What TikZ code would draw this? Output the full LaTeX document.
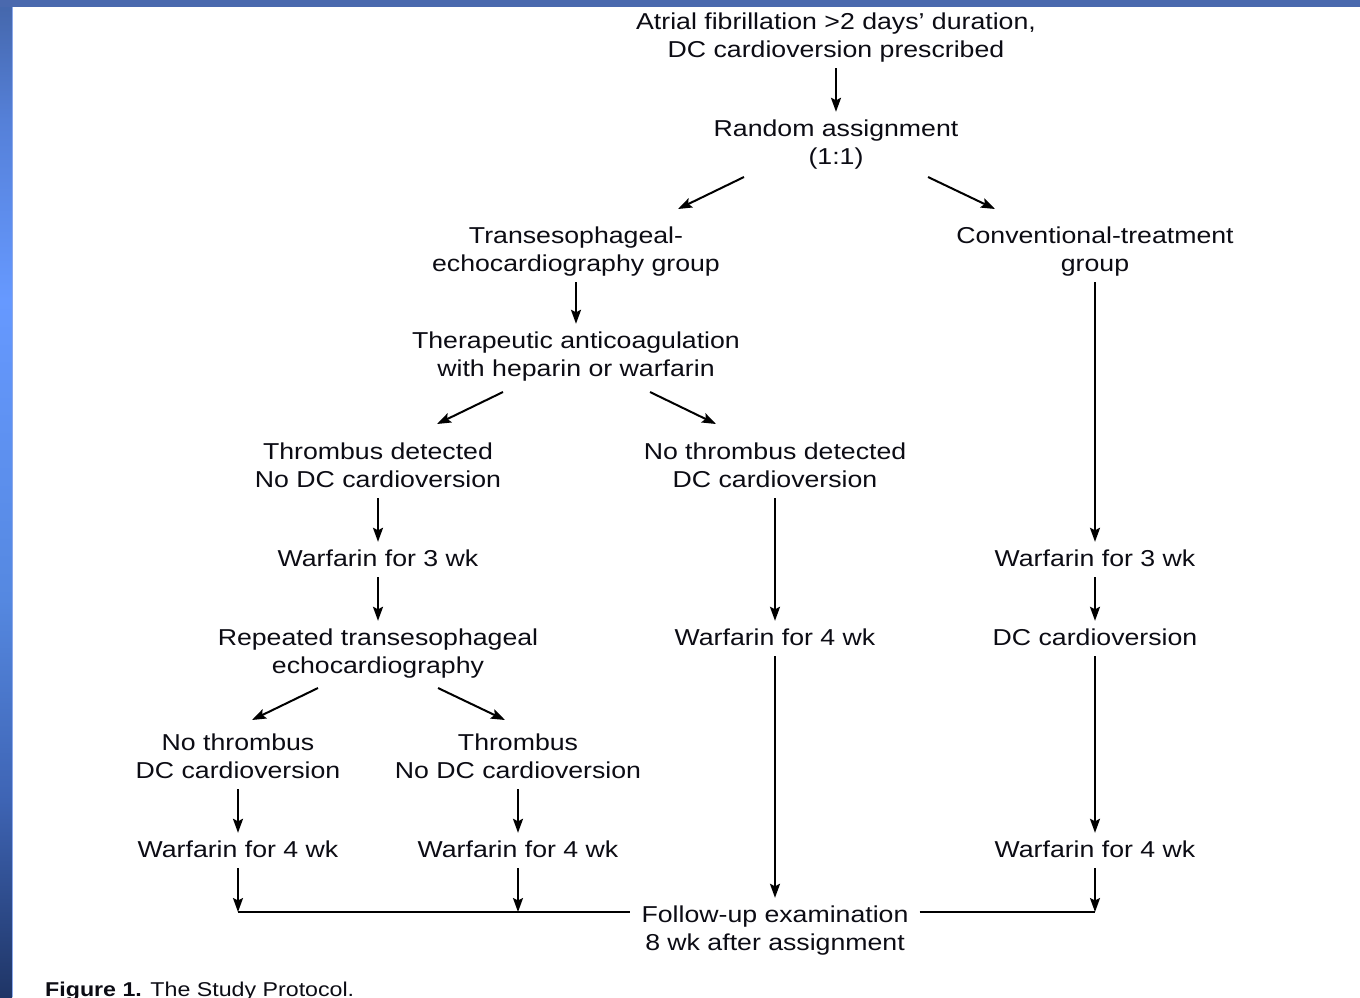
\documentclass[tikz,border=0pt]{standalone}
\usepackage{fontspec}
\setmainfont{Liberation Sans}[FakeStretch=1.16]
\usetikzlibrary{arrows.meta,calc}
\definecolor{txt}{RGB}{12,12,20}
\definecolor{topbar}{RGB}{74,105,174}
\definecolor{bA}{RGB}{68,102,170}
\definecolor{bB}{RGB}{85,128,216}
\definecolor{bC}{RGB}{102,153,255}
\definecolor{bD}{RGB}{85,136,224}
\definecolor{bE}{RGB}{62,100,180}
\definecolor{bF}{RGB}{31,53,102}
\definecolor{edge}{RGB}{140,170,235}
\begin{document}
\begin{tikzpicture}[x=1pt,y=-1pt,
  lbl/.style={inner sep=0pt,align=center,font=\fontsize{23}{28}\selectfont,text=txt},
  tip/.style={-{Stealth[length=14pt,width=10pt,inset=2.5pt]}},
  arr/.style={line width=2pt,draw=black,tip,shorten <=2pt,shorten >=5pt},
  arrj/.style={arr,shorten >=0pt},
  diag/.style={line width=2pt,draw=black,tip},
  ln/.style={line width=2pt,draw=black}]
\useasboundingbox (0,0) rectangle (1360,997);
\fill[white] (0,0) rectangle (1360,997);
% frame
\shade[top color=bA,bottom color=bB] (0,0) rectangle (12,120);
\shade[top color=bB,bottom color=bC] (0,120) rectangle (12,300);
\shade[top color=bC,bottom color=bD] (0,300) rectangle (12,600);
\shade[top color=bD,bottom color=bE] (0,600) rectangle (12,800);
\shade[top color=bE,bottom color=bF] (0,800) rectangle (12,997);
\fill[edge] (12,7) rectangle (13,997);
\fill[topbar] (0,0) rectangle (1360,7);

% nodes
\node[lbl] (A) at (836,38) {\strut Atrial fibrillation >2 days’ duration,\\\strut DC cardioversion prescribed};
\node[lbl] (B) at (836,145) {\strut Random assignment\\\strut (1:1)};
\node[lbl] (C) at (576,252) {\strut Transesophageal-\\\strut echocardiography group};
\node[lbl] (D) at (1095,252) {\strut Conventional-treatment\\\strut group};
\node[lbl] (E) at (576,357) {\strut Therapeutic anticoagulation\\\strut with heparin or warfarin};
\node[lbl] (F) at (378,468) {\strut Thrombus detected\\\strut No DC cardioversion};
\node[lbl] (G) at (775,468) {\strut No thrombus detected\\\strut DC cardioversion};
\node[lbl] (H) at (378,561) {\strut Warfarin for 3 wk};
\node[lbl] (I) at (378,654) {\strut Repeated transesophageal\\\strut echocardiography};
\node[lbl] (J) at (238,759) {\strut No thrombus\\\strut DC cardioversion};
\node[lbl] (K) at (518,759) {\strut Thrombus\\\strut No DC cardioversion};
\node[lbl] (L) at (238,852) {\strut Warfarin for 4 wk};
\node[lbl] (M) at (518,852) {\strut Warfarin for 4 wk};
\node[lbl] (O) at (775,640) {\strut Warfarin for 4 wk};
\node[lbl] (P) at (1095,561) {\strut Warfarin for 3 wk};
\node[lbl] (Q) at (1095,640) {\strut DC cardioversion};
\node[lbl] (R) at (1095,852) {\strut Warfarin for 4 wk};
\node[lbl] (N) at (775,931) {\strut Follow-up examination\\\strut 8 wk after assignment};
\node[anchor=base west,inner sep=0pt,font=\fontsize{20}{24}\selectfont,text=txt] (cap) at (45,996.5) {\textbf{Figure 1.} The Study Protocol.};

\coordinate (jL) at (238,912);
\coordinate (jK) at (518,912);
\coordinate (jR) at (1095,912);

% vertical arrows
\draw[arr] (A) -- (B);
\draw[arr] (C) -- (E);
\draw[arr] (F) -- (H);
\draw[arr] (H) -- (I);
\draw[arr] (J) -- (L);
\draw[arr] (K) -- (M);
\draw[arr] (G) -- (O);
\draw[arr] (O) -- (N);
\draw[arr] (D) -- (P);
\draw[arr] (P) -- (Q);
\draw[arr] (Q) -- (R);
\draw[arrj] (L) -- (jL);
\draw[arrj] (M) -- (jK);
\draw[arrj] (R) -- (jR);

% diagonal arrows
\draw[diag] ([xshift=-92pt,yshift=-32pt]B.center) -- ([xshift=102pt,yshift=43pt]C.center);
\draw[diag] ([xshift=92pt,yshift=-32pt]B.center) -- ([xshift=-100pt,yshift=43pt]D.center);
\draw[diag] ([xshift=-73pt,yshift=-35pt]E.center) -- ([xshift=59pt,yshift=44pt]F.center);
\draw[diag] ([xshift=74pt,yshift=-35pt]E.center) -- ([xshift=-59pt,yshift=44pt]G.center);
\draw[diag] ([xshift=-60pt,yshift=-34pt]I.center) -- ([xshift=14pt,yshift=39pt]J.center);
\draw[diag] ([xshift=60pt,yshift=-34pt]I.center) -- ([xshift=-13pt,yshift=39pt]K.center);

% bottom join
\draw[ln] (jL) -- (jK) -- ($(N.west)+(-11,-19)$);
\draw[ln] ($(N.east)+(11,-19)$) -- (jR);
\end{tikzpicture}
\end{document}
